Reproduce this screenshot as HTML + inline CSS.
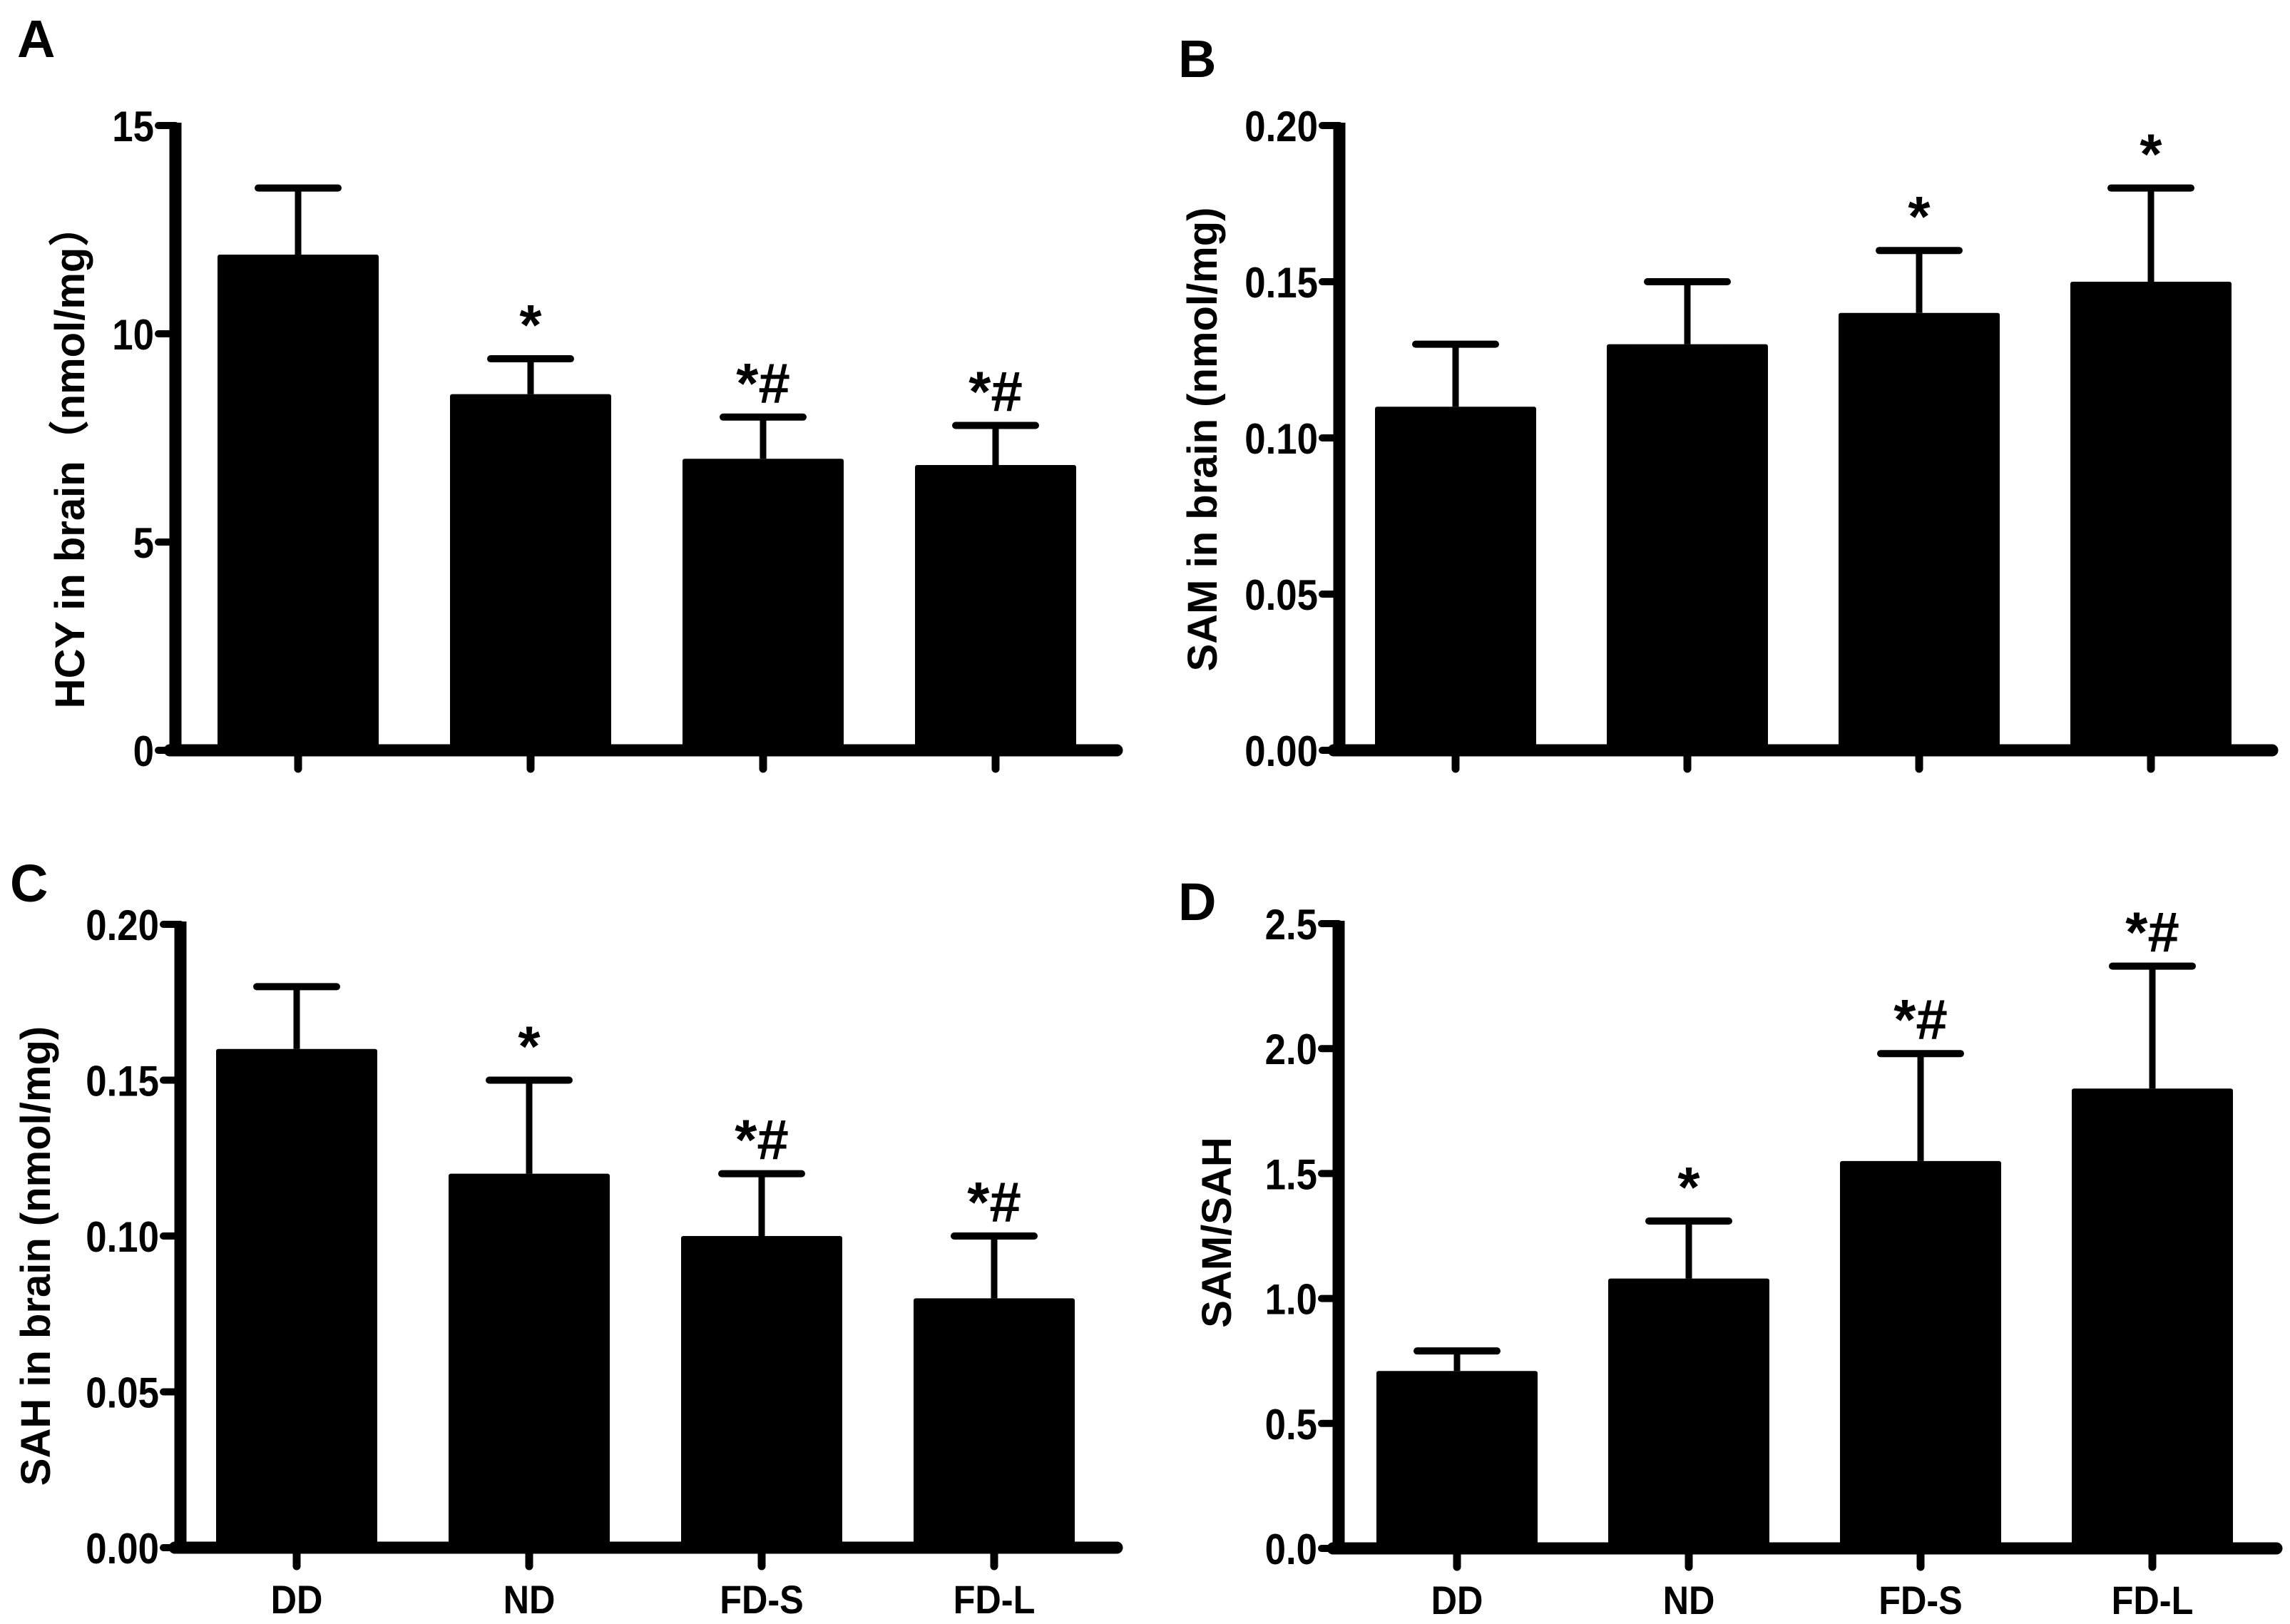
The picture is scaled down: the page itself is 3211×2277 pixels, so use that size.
<!DOCTYPE html>
<html><head><meta charset="utf-8">
<style>
html,body{margin:0;padding:0;background:#fff;}
svg{display:block;}
text{font-family:"Liberation Sans","Noto Sans CJK SC",sans-serif;font-weight:bold;fill:#000;}
</style></head>
<body>
<svg id="fig" width="3211" height="2277" viewBox="0 0 3211 2277" xmlns="http://www.w3.org/2000/svg"></svg>
<script>
const categories = ["DD","ND","FD-S","FD-L"];
const hcyValues = [11.9, 8.55, 7.0, 6.85];
const hcyErrors = [1.6, 0.85, 1.0, 0.95];
const hcyMarks = ["", "*", "*#", "*#"];
const hcyTicks = ["0","5","10","15"];
const samValues = [0.11, 0.13, 0.14, 0.15];
const samErrors = [0.02, 0.02, 0.02, 0.03];
const samMarks = ["", "", "*", "*"];
const samTicks = ["0.00","0.05","0.10","0.15","0.20"];
const sahValues = [0.16, 0.12, 0.10, 0.08];
const sahErrors = [0.02, 0.03, 0.02, 0.02];
const sahMarks = ["", "*", "*#", "*#"];
const sahTicks = ["0.00","0.05","0.10","0.15","0.20"];
const ratioValues = [0.71, 1.08, 1.55, 1.84];
const ratioErrors = [0.08, 0.23, 0.43, 0.49];
const ratioMarks = ["", "*", "*#", "*#"];
const ratioTicks = ["0.0","0.5","1.0","1.5","2.0","2.5"];

const NS = "http://www.w3.org/2000/svg";
const svg = document.getElementById("fig");
function mk(tag, attrs, parent) {
  const e = document.createElementNS(NS, tag);
  for (const k in attrs) e.setAttribute(k, attrs[k]);
  (parent || svg).appendChild(e);
  return e;
}

function panel(cfg) {
  const g = mk("g", {});
  
  
  const max = parseFloat(cfg.ticks[cfg.ticks.length - 1]);
  const yScale = v => cfg.y0 - (v / max) * (cfg.y0 - cfg.yTop);
  const xScale = i => cfg.firstCenter + i * cfg.step;
  const L = mk("text", {x: cfg.letterX, y: cfg.letterY, "font-size": 74}, g);
  L.textContent = cfg.letter;
  
  
  const ya = mk("line", {x1: cfg.ax, y1: cfg.yTop - 4, x2: cfg.ax, y2: cfg.y0 + 8, stroke: "#000", "stroke-width": 17}, g);
  
  
  const xa = mk("line", {x1: cfg.ax - 8, y1: cfg.y0, x2: cfg.xEnd, y2: cfg.y0, stroke: "#000", "stroke-width": 17, "stroke-linecap": "round"}, g);
  
  
  cfg.ticks.forEach(t => {
    const y = yScale(parseFloat(t));
    const tl = mk("line", {x1: cfg.ax - 24, y1: y, x2: cfg.ax, y2: y, stroke: "#000", "stroke-width": 10, "stroke-linecap": "round"}, g);
    
    
    const tx = mk("text", {x: 0, y: 0, "font-size": 60, "text-anchor": "end",
      transform: `translate(${cfg.ax - 30},${y + 22}) scale(0.88,1)`}, g);
    tx.textContent = t;
    
    
  });
  const ti = mk("text", {x: 0, y: 0, "font-size": 58, "text-anchor": "middle",
    transform: `translate(${cfg.titleX},${cfg.titleY}) rotate(-90)`}, g);
  ti.textContent = cfg.title;
  
  
  cfg.values.forEach((v, i) => {
    const cx = xScale(i);
    const top = yScale(v);
    const et = yScale(v + cfg.errors[i]);
    const el = mk("line", {x1: cx, y1: top, x2: cx, y2: et, stroke: "#000", "stroke-width": 9}, g);
    
    
    const cap = mk("line", {x1: cx - 56, y1: et, x2: cx + 56, y2: et, stroke: "#000", "stroke-width": 10, "stroke-linecap": "round"}, g);
    
    
    const r = mk("rect", {x: cx - 113, y: top, width: 226, height: cfg.y0 - top, fill: "#000", rx: 3}, g);
    
    
    const tk = mk("line", {x1: cx, y1: cfg.y0, x2: cx, y2: cfg.y0 + 26, stroke: "#000", "stroke-width": 11, "stroke-linecap": "round"}, g);
    
    
    if (cfg.marks[i]) {
      const m = mk("text", {x: cx, y: et - 20, "font-size": 80, "text-anchor": "middle"}, g);
      m.textContent = cfg.marks[i];
      
      
    }
    if (cfg.showX) {
      const xl = mk("text", {x: 0, y: 0, "font-size": 56, "text-anchor": "middle",
        transform: `translate(${cx},${cfg.y0 + 92}) scale(0.9,1)`}, g);
      xl.textContent = categories[i];
      
      
    }
  });
}

panel({name: "panel-a-hcy", letter: "A", letterX: 24, letterY: 80, ax: 246, y0: 1052, yTop: 176, xEnd: 1566,
  firstCenter: 418, step: 326, values: hcyValues, errors: hcyErrors, marks: hcyMarks, ticks: hcyTicks,
  title: "HCY in brain（nmol/mg）", titleX: 118, titleY: 641, showX: false});
panel({name: "panel-b-sam", letter: "B", letterX: 1652, letterY: 108, ax: 1878, y0: 1052, yTop: 176, xEnd: 3186,
  firstCenter: 2041, step: 325, values: samValues, errors: samErrors, marks: samMarks, ticks: samTicks,
  title: "SAM in brain (nmol/mg)", titleX: 1706, titleY: 616, showX: false});
panel({name: "panel-c-sah", letter: "C", letterX: 14, letterY: 1264, ax: 253, y0: 2170, yTop: 1296, xEnd: 1566,
  firstCenter: 416, step: 326, values: sahValues, errors: sahErrors, marks: sahMarks, ticks: sahTicks,
  title: "SAH in brain (nmol/mg)", titleX: 70, titleY: 1761, showX: true});
panel({name: "panel-d-ratio", letter: "D", letterX: 1652, letterY: 1290, ax: 1877, y0: 2171, yTop: 1295, xEnd: 3192,
  firstCenter: 2043, step: 325, values: ratioValues, errors: ratioErrors, marks: ratioMarks, ticks: ratioTicks,
  title: "SAM/SAH", titleX: 1726, titleY: 1728, showX: true});
</script>
</body></html>
